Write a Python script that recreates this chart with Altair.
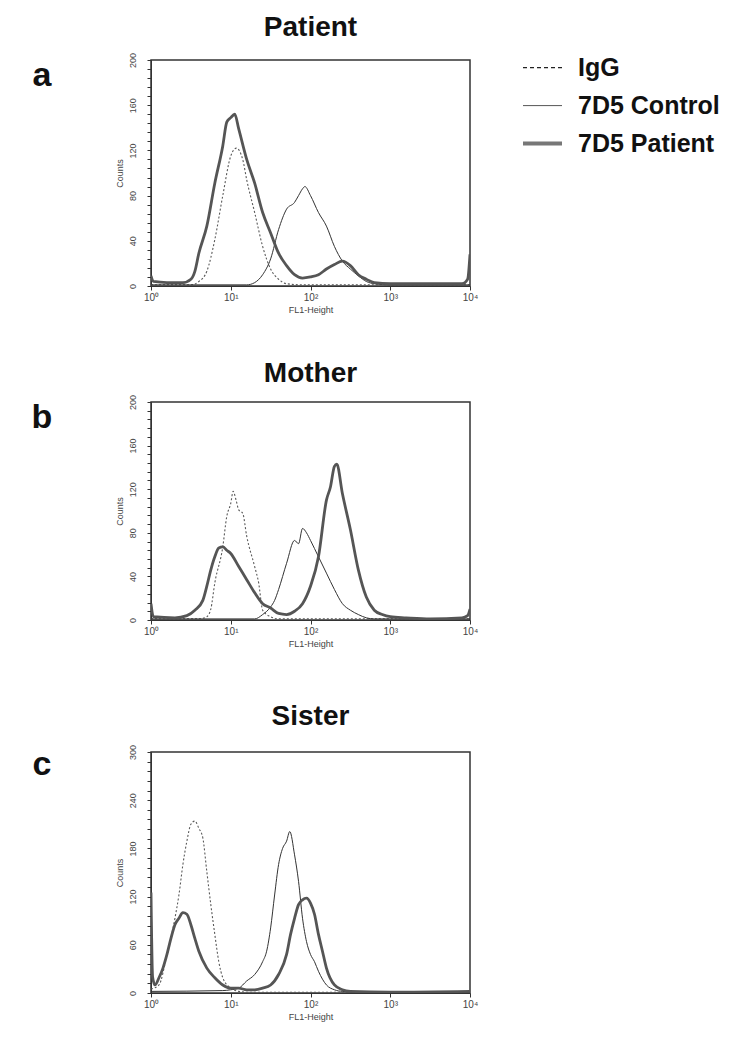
import altair as alt
import pandas as pd

FONT = "Liberation Sans"

# ---------------- data (log10 FL1-Height, Counts) ----------------
# Panel a : Patient
A_IGG_X = [0.0, 0.5, 0.6, 0.7, 0.8, 0.9, 1.0, 1.07, 1.15, 1.2, 1.3, 1.4, 1.5, 1.6, 1.7, 1.9, 4.0]
A_IGG_Y = [1, 1, 4, 13, 41, 80, 115, 122, 112, 94, 65, 35, 15, 6, 2, 1, 1]
A_CTL_X = [0.0, 1.2, 1.3, 1.4, 1.5, 1.6, 1.7, 1.8, 1.85, 1.9, 1.93, 2.0, 2.1, 2.2, 2.3, 2.4, 2.5, 2.6, 2.7, 2.8, 3.0, 4.0]
A_CTL_Y = [1, 1, 3, 10, 24, 50, 68, 74, 80, 86, 88, 80, 65, 53, 35, 22, 15, 9, 4, 2, 1, 1]
A_PAT_X = [0.0, 0.03, 0.2, 0.4, 0.5, 0.55, 0.6, 0.7, 0.8, 0.9, 0.95, 1.0, 1.05, 1.1, 1.2, 1.3, 1.4, 1.5,
           1.6, 1.7, 1.8, 1.9, 2.0, 2.1, 2.2, 2.3, 2.4, 2.5, 2.6, 2.7, 2.8, 3.0, 3.5, 3.9, 3.97, 4.0]
A_PAT_Y = [9, 4, 3, 3, 6, 13, 29, 53, 91, 124, 145, 149, 152, 139, 112, 91, 65, 47,
           29, 18, 10, 7, 8, 10, 15, 19, 22, 18, 10, 6, 3, 2, 2, 2, 6, 28]

# Panel b : Mother
B_IGG_X = [0.0, 0.6, 0.7, 0.75, 0.8, 0.9, 0.95, 1.0, 1.03, 1.07, 1.1, 1.15, 1.2, 1.3, 1.35, 1.4, 1.5, 1.6, 4.0]
B_IGG_Y = [1, 1, 3, 10, 34, 67, 95, 107, 118, 109, 101, 98, 77, 49, 34, 9, 3, 1, 1]
B_CTL_X = [0.0, 1.3, 1.4, 1.5, 1.55, 1.6, 1.7, 1.8, 1.85, 1.9, 1.95, 2.0, 2.1, 2.2, 2.3, 2.4, 2.5, 2.6, 2.7, 2.8, 4.0]
B_CTL_Y = [1, 1, 5, 12, 18, 28, 52, 73, 70, 84, 80, 73, 58, 43, 28, 15, 9, 5, 2, 1, 1]
B_PAT_X = [0.0, 0.03, 0.3, 0.45, 0.55, 0.65, 0.7, 0.75, 0.8, 0.85, 0.9, 0.95, 1.0, 1.1, 1.2, 1.3, 1.4, 1.5,
           1.6, 1.7, 1.8, 1.9, 2.0, 2.1, 2.2, 2.25, 2.3, 2.33, 2.4, 2.5, 2.6, 2.7, 2.8, 2.9, 3.0, 3.2, 3.5,
           3.9, 3.97, 4.0]
B_PAT_Y = [15, 3, 2, 4, 9, 18, 31, 46, 58, 66, 67, 64, 61, 49, 37, 25, 15, 11,
           6, 5, 8, 15, 31, 58, 110, 122, 141, 143, 116, 83, 46, 21, 9, 5, 3, 2, 1,
           2, 4, 10]

# Panel c : Sister
C_IGG_X = [0.0, 0.1, 0.2, 0.3, 0.35, 0.4, 0.45, 0.5, 0.55, 0.6, 0.65, 0.7, 0.75, 0.8, 0.85, 0.9, 1.0, 1.1, 1.2, 4.0]
C_IGG_Y = [5, 10, 48, 93, 122, 160, 189, 210, 214, 205, 193, 151, 110, 73, 39, 19, 6, 2, 1, 1]
C_CTL_X = [0.0, 0.9, 1.0, 1.1, 1.2, 1.3, 1.4, 1.45, 1.5, 1.55, 1.6, 1.65, 1.7, 1.74, 1.8, 1.85, 1.9, 1.95,
           2.0, 2.05, 2.1, 2.2, 2.3, 2.4, 2.6, 4.0]
C_CTL_Y = [2, 3, 4, 6, 15, 23, 39, 52, 81, 122, 160, 180, 189, 201, 172, 139, 93, 64,
           48, 39, 27, 10, 4, 2, 1, 1]
C_PAT_X = [0.0, 0.02, 0.05, 0.1, 0.15, 0.2, 0.25, 0.3, 0.35, 0.4, 0.45, 0.5, 0.55, 0.6, 0.7, 0.8, 0.9, 1.0,
           1.1, 1.2, 1.3, 1.4, 1.5, 1.6, 1.7, 1.75, 1.8, 1.85, 1.9, 1.95, 2.0, 2.05, 2.1, 2.15, 2.2, 2.3,
           2.4, 2.5, 3.0, 4.0]
C_PAT_Y = [125, 20, 10, 19, 31, 48, 68, 85, 93, 100, 98, 85, 68, 52, 31, 19, 10, 6,
           6, 4, 4, 6, 10, 23, 48, 73, 93, 110, 116, 118, 112, 98, 73, 52, 31, 10,
           4, 2, 1, 2]

SERIES = ["IgG", "7D5 Control", "7D5 Patient"]
LEG_ROW = [0, 1, 2]
X_TICKS = [0, 1, 2, 3, 4]

# ---------------- build table ----------------
rows = []
def add(panel, series, xs, ys):
    for xv, yv in zip(xs, ys):
        rows.append({"panel": panel, "series": series, "x": xv, "y": yv})

add("a", "IgG", A_IGG_X, A_IGG_Y)
add("a", "7D5 Control", A_CTL_X, A_CTL_Y)
add("a", "7D5 Patient", A_PAT_X, A_PAT_Y)
add("b", "IgG", B_IGG_X, B_IGG_Y)
add("b", "7D5 Control", B_CTL_X, B_CTL_Y)
add("b", "7D5 Patient", B_PAT_X, B_PAT_Y)
add("c", "IgG", C_IGG_X, C_IGG_Y)
add("c", "7D5 Control", C_CTL_X, C_CTL_Y)
add("c", "7D5 Patient", C_PAT_X, C_PAT_Y)
df = pd.DataFrame(rows)

STYLE = {
    "IgG": dict(color="#5a5a5a", strokeWidth=1.1, strokeDash=[2, 2]),
    "7D5 Control": dict(color="#333333", strokeWidth=1.0),
    "7D5 Patient": dict(color="#555555", strokeWidth=2.8),
}
LEG_STYLE = {
    "IgG": dict(color="#222222", strokeWidth=1.4, strokeDash=[4, 3]),
    "7D5 Control": dict(color="#555555", strokeWidth=1.0),
    "7D5 Patient": dict(color="#777777", strokeWidth=4.0),
}

SUP = "['\u2070','\u00b9','\u00b2','\u00b3','\u2074'][datum.value]"


def panel(key, title, letter, ymax, ystep, lstep, height, title_offset, letter_y):
    base = alt.Chart(df).transform_filter(alt.datum.panel == key)
    x = alt.X("x:Q", scale=alt.Scale(domain=[0, 4], nice=False),
              axis=alt.Axis(values=X_TICKS, labelExpr="'10' + " + SUP, title="FL1-Height",
                            grid=False, tickSize=4, labelFontSize=10, labelPadding=2,
                            titleFontSize=9, titleFontWeight="normal", titlePadding=3,
                            labelFlush=False))
    y = alt.Y("y:Q", scale=alt.Scale(domain=[0, ymax], nice=False),
              axis=alt.Axis(values=list(range(0, ymax + 1, ystep)),
                            labelExpr=f"datum.value % {lstep} == 0 ? datum.label : ''",
                            title="Counts", grid=False, tickSize=4, labelAngle=270,
                            labelAlign="center", labelBaseline="bottom", labelPadding=10,
                            labelFontSize=9, titleFontSize=9, titleFontWeight="normal",
                            titlePadding=4, labelFlush=False))
    layers = []
    for s in SERIES:
        layers.append(
            base.transform_filter(alt.datum.series == s)
            .mark_line(interpolate="monotone", clip=True, **STYLE[s])
            .encode(x=x, y=y)
        )
    let = alt.Chart(pd.DataFrame({"t": [letter]})).mark_text(
        fontSize=34, fontWeight="bold", font=FONT, color="#111111"
    ).encode(text="t:N", x=alt.value(-109), y=alt.value(letter_y))
    return alt.layer(*layers, let).properties(
        width=319, height=height,
        title=alt.TitleParams(text=title, fontSize=28, font=FONT, fontWeight="bold",
                              color="#111111", anchor="middle", offset=title_offset),
    )


pa = panel("a", "Patient", "a", 200, 8, 40, 226, 10, 16)
pb = panel("b", "Mother", "b", 200, 8, 40, 218, 6, 16)
pc = panel("c", "Sister", "c", 300, 12, 60, 241, 13, 13)

leg_df = pd.DataFrame({"label": SERIES, "row": LEG_ROW})
ly = alt.Y("row:Q", scale=alt.Scale(domain=[-0.2, 2.3], reverse=True, nice=False), axis=None)
leg_layers = []
for s in SERIES:
    leg_layers.append(
        alt.Chart(leg_df).transform_filter(alt.datum.label == s)
        .mark_rule(**LEG_STYLE[s])
        .encode(x=alt.value(0), x2=alt.value(39), y=ly)
    )
leg_text = alt.Chart(leg_df).mark_text(
    align="left", baseline="middle", fontSize=25, fontWeight="bold", font=FONT, color="#111111"
).encode(x=alt.value(55), y=ly, text="label:N")
legend = alt.layer(*leg_layers, leg_text).properties(
    width=170, height=95, view=alt.ViewBackground(stroke="transparent")
)

left = alt.vconcat(alt.vconcat(pa, pb, spacing=44), pc, spacing=53)
chart = alt.hconcat(left, legend, spacing=41).properties(
    padding={"left": 22, "top": 5, "right": 5, "bottom": 5}
).configure_view(stroke="#333333", strokeWidth=1.5).configure_axis(
    labelFont=FONT, titleFont=FONT, labelColor="#444444", titleColor="#444444",
    domainColor="#333333", tickColor="#333333"
)

chart.save("out.html", embed_options={"renderer": "svg", "actions": False})
